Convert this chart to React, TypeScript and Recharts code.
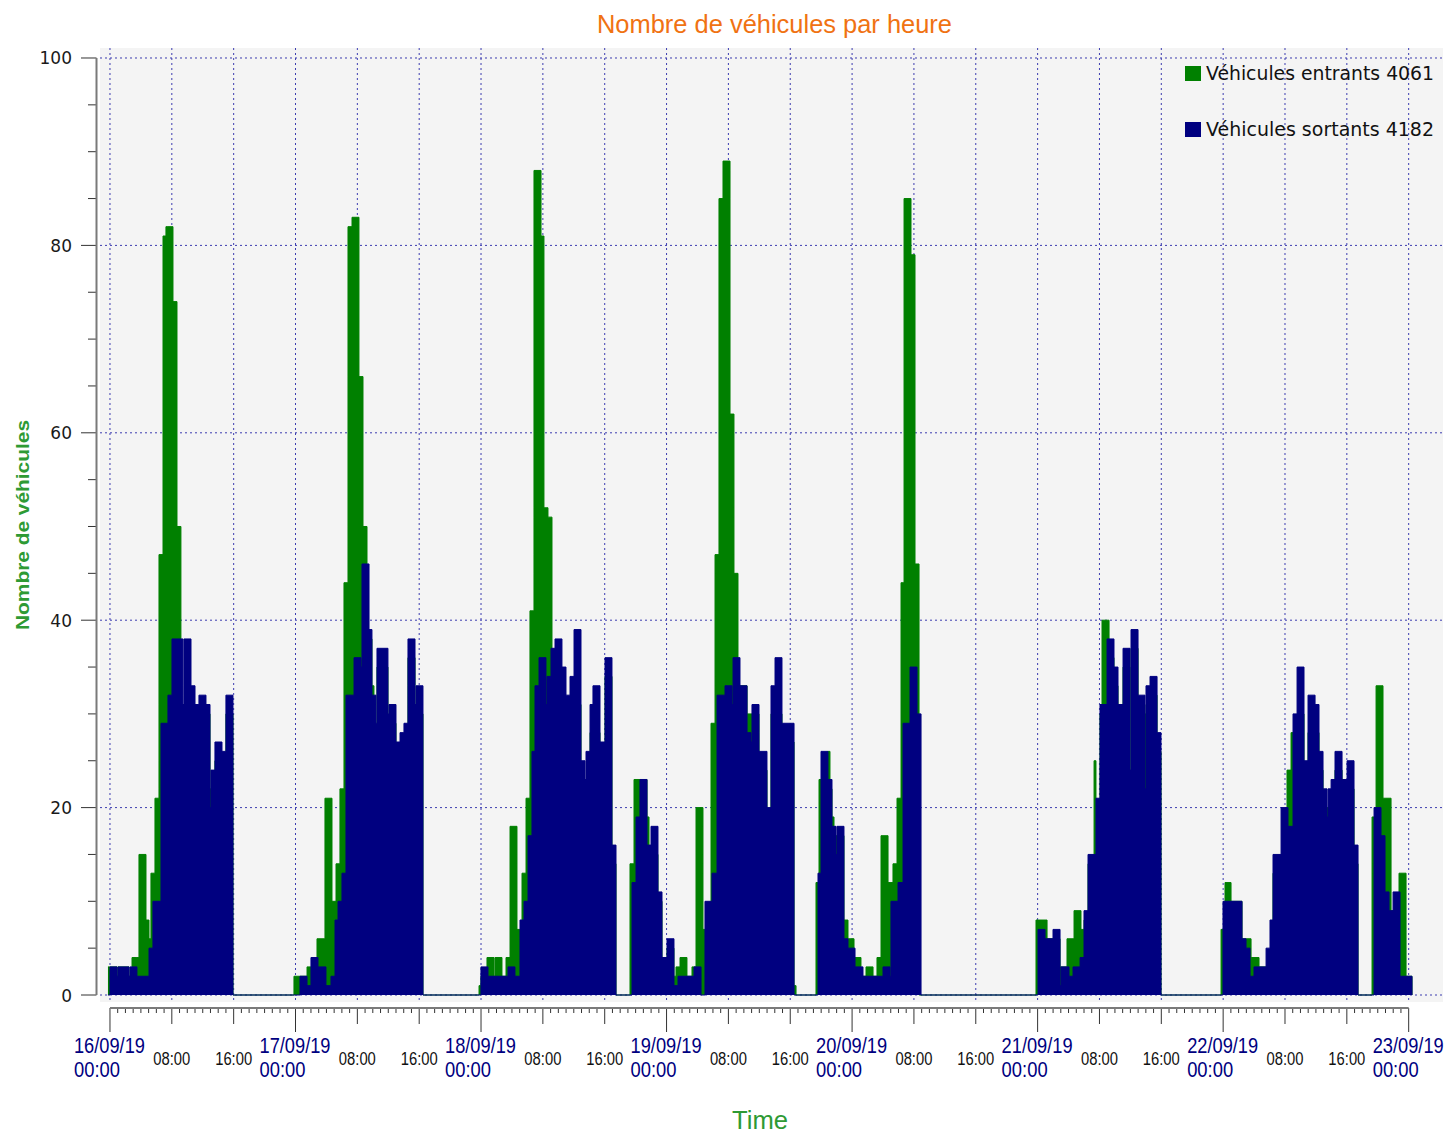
import React from 'react';
import { ComposedChart, Area, XAxis, YAxis, CartesianGrid } from 'recharts';

// ---------- texts ----------
const CHART_TITLE = 'Nombre de véhicules par heure';
const X_TITLE = 'Time';
const Y_TITLE = 'Nombre de véhicules';
const SERIES_NAMES = ['Véhicules entrants 4061', 'Véhicules sortants 4182'];
const SERIES_COLORS = ['#008000', '#000080'];
const DAY_LABELS = ['16/09/19', '17/09/19', '18/09/19', '19/09/19', '20/09/19', '21/09/19', '22/09/19', '23/09/19'];
const DAY_TIME_LABEL = '00:00';
const HOUR_LABELS: Record<number, string> = { 8: '08:00', 16: '16:00' };
const Y_TICK_VALUES = [0, 5, 10, 15, 20, 25, 30, 35, 40, 45, 50, 55, 60, 65, 70, 75, 80, 85, 90, 95, 100];
const Y_GRID_VALUES = [0, 20, 40, 60, 80, 100];
const X_GRID_HOURS = [0, 8, 16, 24, 32, 40, 48, 56, 64, 72, 80, 88, 96, 104, 112, 120, 128, 136, 144, 152, 160, 168];

// ---------- data: step change points [hours since 16/09/19 00:00, vehicles/hour] ----------
const ENTRANTS: [number, number][] = [
  [-0.26, 3], [0.91, 2], [1.03, 3], [2.46, 2], [2.85, 4], [3.75, 15], [4.66, 8], [5.05, 6], [5.3, 13], [5.82, 21],
  [6.34, 47], [6.86, 81], [7.24, 82], [8.15, 74], [8.67, 50], [9.18, 31], [10.48, 30], [11.51, 30], [12.94, 22],
  [13.58, 25], [14.49, 24], [15.0, 30], [15.91, 0],
  [23.8, 2], [25.49, 3], [26.0, 3], [26.78, 6], [27.81, 21], [28.72, 10], [29.24, 14], [29.75, 22], [30.27, 44],
  [30.79, 82], [31.31, 83], [32.21, 66], [32.73, 50], [33.25, 38], [33.89, 33], [34.15, 28], [34.54, 35], [35.96, 29],
  [37.0, 26], [38.03, 27], [38.55, 36], [39.46, 30], [40.49, 0],
  [47.74, 1], [47.99, 2], [48.77, 4], [49.68, 2], [49.81, 4], [50.71, 2], [51.23, 4], [51.75, 18], [52.65, 7],
  [53.3, 13], [53.82, 21], [54.33, 41], [54.85, 88], [55.76, 81], [56.14, 52], [56.66, 51], [57.18, 33], [58.47, 30],
  [59.51, 31], [60.93, 22], [62.1, 28], [63.39, 24], [64.04, 34], [64.94, 14], [65.46, 0],
  [67.27, 14], [67.79, 23], [69.47, 19], [69.73, 15], [70.89, 10], [71.41, 3], [72.06, 5], [72.96, 2], [73.22, 3],
  [73.74, 4], [74.64, 2], [75.29, 3], [75.81, 20], [76.71, 7], [77.75, 29], [78.27, 47], [78.78, 85], [79.3, 89],
  [80.21, 62], [80.72, 45], [81.24, 33], [82.41, 30], [83.96, 24], [84.99, 18], [85.51, 30], [86.93, 27], [88.49, 1],
  [88.75, 0],
  [91.33, 12], [91.72, 23], [92.88, 26], [93.14, 22], [93.4, 19], [93.66, 17], [94.95, 8], [95.47, 6], [96.25, 4],
  [97.15, 2], [97.8, 3], [98.71, 2], [99.22, 4], [99.74, 17], [100.65, 12], [101.29, 14], [101.81, 21], [102.33, 44],
  [102.72, 85], [103.62, 79], [104.14, 46], [104.66, 0],
  [119.79, 8], [121.22, 6], [122.9, 3], [123.8, 6], [124.71, 9], [125.61, 7], [126.0, 8], [126.52, 14], [127.3, 25],
  [127.55, 20], [128.07, 30], [128.33, 40], [129.24, 36], [129.88, 33], [130.4, 30], [131.05, 35], [131.95, 22],
  [132.08, 37], [132.99, 30], [134.02, 31], [134.54, 32], [135.45, 26], [135.96, 0],
  [143.73, 7], [144.24, 12], [145.02, 10], [146.44, 6], [147.61, 4], [148.64, 3], [150.45, 13], [152.26, 24],
  [152.78, 28], [153.04, 27], [153.56, 30], [154.46, 22], [154.98, 28], [156.4, 24], [156.92, 20], [158.47, 24],
  [159.38, 20], [160.03, 22], [160.93, 14], [161.45, 0],
  [163.26, 19], [163.78, 33], [164.68, 21], [165.72, 9], [166.75, 13], [167.66, 2], [168.43, 0],
];

const SORTANTS: [number, number][] = [
  [0, 3], [0.91, 2], [1.03, 3], [2.46, 2], [2.59, 3], [3.49, 2], [5.05, 5], [5.56, 10], [6.6, 29], [7.5, 32],
  [8.02, 38], [9.44, 31], [9.57, 38], [10.48, 33], [11.0, 31], [11.51, 32], [12.42, 31], [12.94, 20], [13.06, 24],
  [13.58, 27], [14.49, 26], [15.0, 32], [15.91, 0],
  [24.58, 2], [25.49, 1], [26.0, 4], [26.91, 3], [27.94, 1], [28.59, 2], [29.11, 8], [29.5, 10], [30.01, 13],
  [30.53, 32], [31.57, 36], [32.47, 35], [32.6, 46], [33.51, 39], [33.89, 32], [34.41, 29], [34.54, 37], [35.96, 30],
  [36.09, 31], [37.0, 27], [37.52, 28], [38.03, 29], [38.55, 38], [39.46, 31], [39.59, 33], [40.49, 0],
  [47.99, 3], [48.9, 2], [51.49, 3], [52.39, 2], [53.04, 8], [53.56, 10], [54.08, 17], [54.59, 26], [54.98, 33],
  [55.5, 36], [56.4, 31], [56.53, 34], [57.05, 37], [57.57, 38], [58.47, 35], [58.99, 32], [59.51, 34], [60.03, 39],
  [60.93, 25], [61.45, 23], [61.58, 26], [62.1, 31], [62.48, 33], [63.39, 27], [64.04, 36], [64.94, 16], [65.46, 0],
  [67.53, 12], [68.05, 19], [68.56, 23], [69.47, 16], [69.99, 18], [70.89, 11], [71.41, 4], [72.06, 6], [72.96, 1],
  [73.48, 2], [75.55, 3], [76.46, 0], [76.97, 10], [77.88, 13], [78.53, 32], [79.56, 33], [80.47, 31], [80.6, 36],
  [81.5, 33], [82.41, 28], [82.92, 27], [83.05, 31], [83.96, 26], [84.99, 20], [85.51, 33], [86.03, 36], [86.93, 29],
  [88.49, 0],
  [91.59, 13], [91.98, 26], [92.88, 23], [93.4, 18], [93.92, 15], [94.05, 18], [94.95, 6], [95.47, 5], [96.38, 3],
  [97.41, 2], [100.0, 3], [100.91, 2], [101.03, 10], [101.94, 12], [102.59, 29], [103.49, 35], [104.4, 30],
  [104.92, 0],
  [120.05, 7], [120.96, 6], [121.99, 7], [122.9, 1], [123.03, 3], [124.06, 2], [124.58, 3], [125.49, 4], [126.0, 9],
  [126.52, 15], [127.55, 21], [128.07, 31], [128.98, 38], [129.88, 35], [130.4, 31], [131.05, 37], [131.95, 24],
  [132.08, 39], [132.99, 32], [133.89, 22], [134.02, 33], [134.54, 34], [135.45, 28], [135.96, 0],
  [143.98, 10], [146.44, 6], [146.96, 5], [147.48, 2], [147.99, 3], [149.55, 5], [150.06, 8], [150.45, 15],
  [151.49, 20], [152.39, 18], [153.04, 30], [153.56, 35], [154.46, 25], [154.98, 32], [155.89, 31], [156.4, 26],
  [156.92, 22], [157.44, 19], [157.57, 22], [157.96, 23], [158.47, 26], [159.38, 23], [160.03, 25], [160.93, 16],
  [161.45, 0],
  [163.52, 20], [164.42, 17], [164.94, 11], [165.46, 9], [165.98, 11], [166.88, 2], [168.43, 0],
];

// ---------- table for the library (step value held between change points) ----------
function valueAt(steps: [number, number][], t: number) {
  let v = 0;
  for (const [ts, val] of steps) {
    if (ts <= t) v = val;
    else break;
  }
  return v;
}
const ALL_TIMES = Array.from(new Set([...ENTRANTS.map((p) => p[0]), ...SORTANTS.map((p) => p[0])])).sort((a, b) => a - b);
const TABLE = ALL_TIMES.map((t) => ({ t, entrants: valueAt(ENTRANTS, t), sortants: valueAt(SORTANTS, t) }));

// ---------- layout ----------
const W = 1449;
const H = 1135;
const PLOT_LEFT = 100;
const PLOT_RIGHT = 1443;
const PLOT_TOP = 48;
const PLOT_BOTTOM = 1002;
const X_MIN = -1.29;
const X_MAX = 172.44;
const Y_MIN = -0.747;
const Y_MAX = 101.067;
const HOUR_TICKS = Array.from({ length: 169 }, (_, i) => i);
const HOUR_PX = (PLOT_RIGHT - PLOT_LEFT) / (X_MAX - X_MIN);
const UNIT_PX = (PLOT_BOTTOM - PLOT_TOP) / (Y_MAX - Y_MIN);
const xPx = (t: number) => PLOT_LEFT + (t - X_MIN) * HOUR_PX;
const yPx = (v: number) => PLOT_TOP + (Y_MAX - v) * UNIT_PX;
const X_AXIS_Y = 1008;
const Y_AXIS_X = 96.5;

const NARROW = '"Liberation Sans Narrow", "Liberation Sans", Arial, sans-serif';
const SANS = '"Liberation Sans", Arial, sans-serif';

function XTick(props: any) {
  const { x, payload } = props;
  const h = payload.value as number;
  const isDay = h % 24 === 0;
  const isMajor = h % 8 === 0;
  const len = isDay ? 24 : isMajor ? 16 : 5;
  return (
    <g>
      <line x1={x} x2={x} y1={X_AXIS_Y} y2={X_AXIS_Y + len} stroke="#333" strokeWidth={1} />
      {isDay && (
        <g fill="#000080" fontFamily={NARROW} fontSize={22}>
          <text x={x - 36} y={1053} textLength={71} lengthAdjust="spacingAndGlyphs">
            {DAY_LABELS[h / 24]}
          </text>
          <text x={x - 36} y={1077} textLength={46} lengthAdjust="spacingAndGlyphs">
            {DAY_TIME_LABEL}
          </text>
        </g>
      )}
      {!isDay && isMajor && (
        <text
          x={x - 18.5}
          y={1065}
          fill="#111"
          fontFamily={NARROW}
          fontSize={18}
          textLength={37}
          lengthAdjust="spacingAndGlyphs"
        >
          {HOUR_LABELS[h % 24]}
        </text>
      )}
    </g>
  );
}

function YTick(props: any) {
  const { y, payload } = props;
  const v = payload.value as number;
  const major = v % 20 === 0;
  return (
    <g>
      <line x1={major ? 81 : 88} x2={Y_AXIS_X} y1={y} y2={y} stroke="#333" strokeWidth={1} />
      {major && (
        <text x={72} y={y + 6.5} textAnchor="end" fill="#1a1a1a" fontFamily='"DejaVu Sans", Verdana, sans-serif' fontSize={17}>
          {v}
        </text>
      )}
    </g>
  );
}

export default function App() {
  return (
    <div style={{ position: 'absolute', left: 0, top: 0, width: W, height: H, background: '#fff' }}>
      <ComposedChart
        width={W}
        height={H}
        data={TABLE}
        margin={{ top: PLOT_TOP, right: W - PLOT_RIGHT, left: PLOT_LEFT - 60, bottom: H - PLOT_BOTTOM - 80 }}
      >
        <CartesianGrid
          fill="#F4F4F4"
          fillOpacity={1}
          stroke="#3c3cb0"
          strokeDasharray="2 3"
          horizontalValues={Y_GRID_VALUES}
          verticalValues={X_GRID_HOURS}
        />
        <XAxis
          type="number"
          dataKey="t"
          domain={[X_MIN, X_MAX]}
          ticks={HOUR_TICKS}
          interval={0}
          allowDataOverflow
          height={80}
          axisLine={false}
          tickLine={false}
          tick={<XTick />}
        />
        <YAxis
          type="number"
          domain={[Y_MIN, Y_MAX]}
          ticks={Y_TICK_VALUES}
          interval={0}
          allowDataOverflow
          width={60}
          axisLine={false}
          tickLine={false}
          tick={<YTick />}
        />
        <Area
          type="stepAfter"
          dataKey="entrants"
          name={SERIES_NAMES[0]}
          fill={SERIES_COLORS[0]}
          fillOpacity={1}
          stroke={SERIES_COLORS[0]}
          strokeWidth={1}
          baseValue={0}
          dot={false}
          activeDot={false}
          isAnimationActive={false}
        />
        <Area
          type="stepAfter"
          dataKey="sortants"
          name={SERIES_NAMES[1]}
          fill={SERIES_COLORS[1]}
          fillOpacity={1}
          stroke={SERIES_COLORS[1]}
          strokeWidth={1}
          baseValue={0}
          dot={false}
          activeDot={false}
          isAnimationActive={false}
        />
      </ComposedChart>
      <svg
        width={W}
        height={H}
        style={{ position: 'absolute', left: 0, top: 0, pointerEvents: 'none' }}
      >
        {/* axis lines */}
        <line x1={Y_AXIS_X} x2={Y_AXIS_X} y1={yPx(100)} y2={yPx(0)} stroke="#7a7a7a" strokeWidth={2} />
        <line x1={xPx(0)} x2={xPx(168)} y1={X_AXIS_Y} y2={X_AXIS_Y} stroke="#7a7a7a" strokeWidth={2} />
        {/* title */}
        <text
          x={774.5}
          y={33}
          textAnchor="middle"
          fill="#F07212"
          fontFamily={SANS}
          fontSize={26}
          textLength={355}
          lengthAdjust="spacingAndGlyphs"
        >
          {CHART_TITLE}
        </text>
        {/* x title */}
        <text x={760} y={1129} textAnchor="middle" fill="#2E9A34" fontFamily={SANS} fontSize={25} textLength={56} lengthAdjust="spacingAndGlyphs">
          {X_TITLE}
        </text>
        {/* y title */}
        <text
          x={0}
          y={0}
          transform="translate(28.5,525) rotate(-90)"
          textAnchor="middle"
          fill="#2E9A34"
          fontFamily={NARROW}
          fontWeight="bold"
          fontSize={19}
          textLength={210}
          lengthAdjust="spacingAndGlyphs"
        >
          {Y_TITLE}
        </text>
        {/* legend */}
        {SERIES_NAMES.map((name, i) => (
          <g key={name}>
            <rect x={1185} y={66 + i * 56} width={16} height={15} fill={SERIES_COLORS[i]} />
            <text
              x={1206}
              y={80 + i * 56}
              fill="#111"
              fontFamily='"DejaVu Sans", Verdana, sans-serif'
              fontSize={19}
              textLength={228}
              lengthAdjust="spacingAndGlyphs"
            >
              {name}
            </text>
          </g>
        ))}
      </svg>
    </div>
  );
}
